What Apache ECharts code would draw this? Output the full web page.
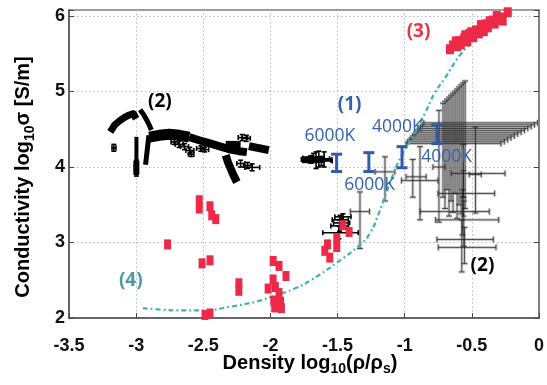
<!DOCTYPE html>
<html><head><meta charset="utf-8">
<script src="https://cdn.jsdelivr.net/npm/echarts@6/dist/echarts.min.js"></script>
<style>html,body{margin:0;padding:0;background:#fff}#c{width:547px;height:385px}</style>
</head><body><div id="c"></div>
<script>
// ---- axis definitions ----
const xRange = [-3.5, 0];
const yRange = [2, 6.08];
const xStep = 0.5;
const yStep = 1;

// ---- red squares : [log density, log conductivity] ----
const redPoints = [
  [-2.530,3.56],[-2.530,3.45],[-2.450,3.48],[-2.437,3.36],[-2.407,3.31],[-2.766,2.975],
  [-2.509,2.724],[-2.450,2.764],[-2.235,2.46],[-2.235,2.36],[-2.487,2.04],[-2.45,2.06],
  [-1.980,2.755],[-1.936,2.69],[-1.884,2.556],[-1.980,2.51],[-2.017,2.39],[-1.963,2.41],
  [-1.936,2.33],[-1.975,2.23],[-1.925,2.216],[-1.968,2.14],[-1.918,2.13],
  [-1.461,3.23],[-1.414,3.14],[-1.575,2.975],[-1.595,2.89],[-1.558,2.80],[-1.506,3.06],[-1.506,2.94]
];
// ---- (3) red cluster ----
const redCluster = [
  [-0.663,5.56],[-0.641,5.61],[-0.611,5.60],[-0.619,5.665],[-0.589,5.665],[-0.559,5.70],
  [-0.582,5.625],[-0.534,5.665],[-0.549,5.745],[-0.520,5.76],[-0.490,5.72],[-0.505,5.785],
  [-0.470,5.81],[-0.448,5.77],[-0.426,5.84],[-0.411,5.80],[-0.433,5.88],[-0.396,5.89],
  [-0.381,5.85],[-0.367,5.93],[-0.344,5.94],[-0.330,5.90],[-0.307,5.97],[-0.285,5.98],
  [-0.270,5.94],[-0.315,6.00],[-0.233,6.05]
];

// ---- (4) model curve ----
const modelCurve = [
  [-2.95,2.13],[-2.8,2.11],[-2.7,2.10],[-2.5,2.10],[-2.3,2.15],[-2.1,2.22],[-1.96,2.30],
  [-1.82,2.39],[-1.69,2.51],[-1.5,2.74],[-1.34,2.96],[-1.26,3.12],[-1.19,3.40],[-1.12,3.74],
  [-1.03,4.13],[-0.94,4.40],[-0.85,4.71],[-0.78,4.97],[-0.70,5.18],[-0.59,5.48],[-0.5,5.65],
  [-0.4,5.80],[-0.3,5.92],[-0.2,6.05]
];

// ---- (1) blue ranges : [x, yLow, yHigh] ----
const blueRanges = [[-1.507,3.94,4.17],[-1.267,3.94,4.19],[-1.02,3.99,4.27],[-0.76,4.31,4.56]];

// ---- (2) black dense data bands ----
const bandA = [[-3.193,4.465],[-3.177,4.51],[-3.161,4.554],[-3.142,4.585],[-3.124,4.611],[-3.105,4.635],
  [-3.087,4.656],[-3.068,4.673],[-3.05,4.69],[-3.035,4.70],[-3.02,4.705],[-3.008,4.68],[-3.0,4.64]];
const bandB = [[-2.971,4.76],[-2.946,4.70],[-2.924,4.63],[-2.902,4.555],[-2.887,4.49]];
const bandC = [[-2.998,4.40],[-2.998,3.89]];
const bandD = [[-2.905,4.42],[-2.93,4.03]];
const bandE1 = [[-2.902,4.395],[-2.828,4.42],[-2.753,4.435],[-2.679,4.42],[-2.605,4.395]];
const bandE2 = [[-2.605,4.395],[-2.531,4.355],[-2.457,4.316],[-2.383,4.276],[-2.308,4.236],[-2.234,4.21],[-2.175,4.197]];
const bandH = [[-2.333,4.157],[-2.316,4.064],[-2.294,3.97],[-2.272,3.88],[-2.25,3.80]];
const bandG1 = [[-2.333,4.28],[-2.222,4.28]];
const bandG2 = [[-2.16,4.276],[-2.012,4.223]];
const bandK = [[-1.765,4.095],[-1.60,4.10]];

// black crosses : [x, y, xLow, xHigh, yLow, yHigh]
const blackCrosses = [
  [-3.166,4.254,-3.18,-3.15,4.21,4.30],
  [-2.998,3.93,-3.015,-2.982,3.88,3.97],[-2.998,3.99,-3.015,-2.982,3.95,4.03],[-2.998,4.05,-3.015,-2.982,4.01,4.09],
  [-2.716,4.333,-2.74,-2.69,4.30,4.37],[-2.68,4.30,-2.71,-2.65,4.26,4.34],[-2.64,4.27,-2.67,-2.61,4.23,4.31],
  [-2.60,4.22,-2.63,-2.57,4.17,4.26],[-2.59,4.17,-2.61,-2.57,4.14,4.20],[-2.518,4.246,-2.55,-2.49,4.21,4.28],
  [-2.49,4.23,-2.52,-2.46,4.20,4.26],
  [-2.21,4.39,-2.24,-2.17,4.35,4.43],[-2.18,4.38,-2.21,-2.15,4.34,4.42],
  [-2.222,4.047,-2.25,-2.19,4.00,4.09],[-2.17,4.02,-2.20,-2.14,3.98,4.06],[-2.136,3.995,-2.19,-2.08,3.95,4.04],
  [-1.70,4.10,-1.77,-1.62,4.05,4.15],[-1.66,4.09,-1.76,-1.55,3.98,4.20],[-1.64,4.11,-1.72,-1.56,4.00,4.21],
  [-1.62,4.08,-1.70,-1.54,4.02,4.14],[-1.68,4.12,-1.76,-1.60,4.06,4.18],[-1.60,4.10,-1.66,-1.543,4.00,4.20],
  [-1.49,3.13,-1.61,-1.346,3.05,3.22],[-1.48,3.30,-1.54,-1.42,3.22,3.36],[-1.47,3.26,-1.53,-1.41,3.20,3.32],
  [-1.485,3.22,-1.55,-1.42,3.15,3.30],[-1.46,3.34,-1.52,-1.40,3.28,3.38]
];

// gray crosses : [x, y, xLow, xHigh, yLow, yHigh]
const grayCrosses = [
  [-1.147,3.936,-1.221,-1.073,3.55,4.135],[-1.333,3.41,-1.405,-1.262,2.92,3.67],
  [-0.886,3.82,-1.024,-0.752,3.30,4.27],[-0.94,3.87,-0.99,-0.84,3.60,4.10],
  [-0.563,3.65,-0.752,-0.33,3.35,3.95],[-0.563,3.915,-0.654,-0.253,3.60,4.30],
  [-0.57,3.41,-0.885,-0.37,3.10,3.70],[-0.56,3.30,-0.77,-0.30,2.95,3.55],
  [-0.575,3.04,-0.76,-0.34,2.61,3.30],[-0.555,2.935,-0.75,-0.32,2.72,3.20],
  [-0.473,3.90,-0.52,-0.43,3.39,4.53],[-0.745,4.00,-0.79,-0.70,3.27,4.75]
];
const fanCrosses = [
  [-0.715,4.31,-0.99,-0.283,3.60,4.845],[-0.700,4.335,-0.978,-0.258,3.45,4.872],
  [-0.685,4.36,-0.966,-0.233,3.70,4.899],[-0.670,4.385,-0.954,-0.208,3.35,4.926],
  [-0.655,4.41,-0.942,-0.183,3.55,4.953],[-0.640,4.435,-0.930,-0.158,3.40,4.98],
  [-0.625,4.46,-0.918,-0.133,3.65,5.007],[-0.610,4.485,-0.906,-0.108,3.32,5.034],
  [-0.595,4.51,-0.894,-0.083,3.50,5.061],[-0.580,4.535,-0.882,-0.058,3.38,5.088],
  [-0.565,4.56,-0.870,-0.033,3.60,5.115],[-0.550,4.585,-0.858,-0.011,3.45,5.14]
];

// annotations
const annotText = ['(2)','(1)','6000K','4000K','6000K','4000K','(2)','(3)','(4)'];
const annotX = [-2.823,-1.410,-1.558,-1.054,-1.261,-0.688,-0.421,-0.897,-3.040];
const annotY = [4.862,4.828,4.408,4.531,3.76,4.134,2.692,5.80,2.49];
const annotStyle = ['b2','b1','k','k','k','k','b2','b3','b4'];

const chart = echarts.init(document.getElementById('c'));

function makeErr(color, lw, cap) {
  return function (params, api) {
    const x = api.value(0), y = api.value(1);
    const xl = api.value(2), xh = api.value(3), yl = api.value(4), yh = api.value(5);
    const L = api.coord([xl, y]), R = api.coord([xh, y]);
    const B = api.coord([x, yl]), T = api.coord([x, yh]);
    const ch = [];
    const seg = (x1, y1, x2, y2) => ch.push({type: 'line', shape: {x1, y1, x2, y2}, style: {stroke: color, lineWidth: lw, fill: null}});
    if (xh > xl) {
      seg(L[0], L[1], R[0], R[1]);
      seg(L[0], L[1] - cap, L[0], L[1] + cap);
      seg(R[0], R[1] - cap, R[0], R[1] + cap);
    }
    if (yh > yl) {
      seg(B[0], B[1], T[0], T[1]);
      seg(B[0] - cap, B[1], B[0] + cap, B[1]);
      seg(T[0] - cap, T[1], T[0] + cap, T[1]);
    }
    return {type: 'group', children: ch};
  };
}

function errSeries(data, color, lw, cap, z) {
  return {type: 'custom', data: data, renderItem: makeErr(color, lw, cap), clip: true, z: z, silent: true,
    encode: {x: [0, 2, 3], y: [1, 4, 5]}};
}
function band(data, w) {
  return {type: 'line', data: data, symbol: 'none', lineStyle: {color: '#000', width: w, cap: 'butt', join: 'round'}, z: 3, silent: true, clip: true};
}

const labelRich = {
  b1: {fontFamily: 'Open Sans', fontWeight: 'bold', fontSize: 19, color: '#3461ad'},
  b2: {fontFamily: 'Open Sans', fontWeight: 'bold', fontSize: 19, color: '#000'},
  b3: {fontFamily: 'Open Sans', fontWeight: 'bold', fontSize: 19, color: '#ef3344'},
  b4: {fontFamily: 'Open Sans', fontWeight: 'bold', fontSize: 19, color: '#4a9aab'},
  k:  {fontFamily: 'Open Sans', fontSize: 17.5, color: '#3461ad'}
};

const axisLabelStyle = {fontFamily: 'Liberation Sans', fontWeight: 'bold', fontSize: 18, color: '#111'};

chart.setOption({
  animation: false,
  backgroundColor: '#fff',
  grid: {left: 69, right: 6, top: 10, bottom: 67, show: true, borderColor: '#777', borderWidth: 1.5},
  xAxis: {
    type: 'value', min: xRange[0], max: xRange[1], interval: xStep,
    axisLine: {show: true, onZero: false, lineStyle: {color: '#666', width: 2}},
    axisTick: {inside: true, length: 5, lineStyle: {color: '#444'}},
    axisLabel: Object.assign({margin: 19, formatter: v => String(v)}, axisLabelStyle),
    splitLine: {show: true, lineStyle: {color: '#bbb', type: [1.5, 2.5], width: 1}}
  },
  yAxis: [{
    type: 'value', min: yRange[0], max: yRange[1], interval: yStep,
    axisLine: {show: true, onZero: false, lineStyle: {color: '#666', width: 2}},
    axisTick: {inside: true, length: 5, lineStyle: {color: '#444'}},
    axisLabel: Object.assign({margin: 4, formatter: v => Number.isInteger(v) ? String(v) : ''}, axisLabelStyle),
    splitLine: {show: true, lineStyle: {color: '#bbb', type: [1.5, 2.5], width: 1}}
  }, {
    type: 'value', position: 'right', min: yRange[0], max: yRange[1], interval: yStep,
    axisLine: {show: true, onZero: false, lineStyle: {color: '#777', width: 1.5}},
    axisTick: {inside: true, length: 5, lineStyle: {color: '#444'}},
    axisLabel: {show: false}, splitLine: {show: false}
  }],
  graphic: [{
    type: 'text', x: 310, y: 363, z: 100,
    style: {text: '{a|Density log}{s|10}{a|(ρ/ρ}{s|s}{a|)}', align: 'center', verticalAlign: 'middle',
      rich: {a: {fontFamily: 'Liberation Sans', fontWeight: 'bold', fontSize: 20, color: '#111', lineHeight: 26},
             s: {fontFamily: 'Liberation Sans', fontWeight: 'bold', fontSize: 14, color: '#111', lineHeight: 13, verticalAlign: 'bottom'}}}
  }, {
    type: 'text', x: 23, y: 177, rotation: Math.PI / 2, z: 100,
    style: {text: '{a|Conductivity log}{s|10}{a|σ [S/m]}', align: 'center', verticalAlign: 'middle',
      rich: {a: {fontFamily: 'Liberation Sans', fontWeight: 'bold', fontSize: 20, color: '#111', lineHeight: 28},
             s: {fontFamily: 'Liberation Sans', fontWeight: 'bold', fontSize: 14, color: '#111', lineHeight: 14, verticalAlign: 'bottom'}}}
  }],
  series: [
    errSeries(fanCrosses.concat(grayCrosses), 'rgba(150,150,150,0.45)', 3, 3, 1),
    errSeries(fanCrosses.concat(grayCrosses), 'rgba(30,30,30,0.8)', 0.9, 3, 2),
    band(bandA, 7), band(bandB, 5), band(bandC, 4), band(bandD, 5), band(bandE1, 11), band(bandE2, 8),
    band(bandH, 8), band(bandG1, 10), band(bandG2, 8), band(bandK, 7),
    errSeries(blackCrosses, '#000', 1.6, 2.5, 4),
    {type: 'line', data: modelCurve, smooth: true, symbol: 'none', z: 5, silent: true, clip: true,
      lineStyle: {color: '#44b2b4', width: 2.3, type: [5, 3, 1.8, 3]}},
    {type: 'scatter', data: redPoints, symbol: 'rect', symbolSize: [7, 10], z: 6, silent: true,
      itemStyle: {color: '#ec2a48', opacity: 1}},
    {type: 'scatter', data: redCluster, symbol: 'rect', symbolSize: [8, 10], z: 6, silent: true,
      itemStyle: {color: '#ec2a48', opacity: 1}},
    errSeries(blueRanges.map(d => [d[0], (d[1] + d[2]) / 2, d[0], d[0], d[1], d[2]]), '#2e5ca8', 3, 5.5, 7),
    {type: 'scatter', z: 10, silent: true, symbolSize: 1, itemStyle: {color: 'rgba(0,0,0,0)', opacity: 1},
      data: annotText.map((t, i) => ({value: [annotX[i], annotY[i]],
        label: {show: true, position: 'inside', opacity: 1, formatter: '{' + annotStyle[i] + '|' + t + '}', rich: labelRich}}))}
  ]
});
</script></body></html>
